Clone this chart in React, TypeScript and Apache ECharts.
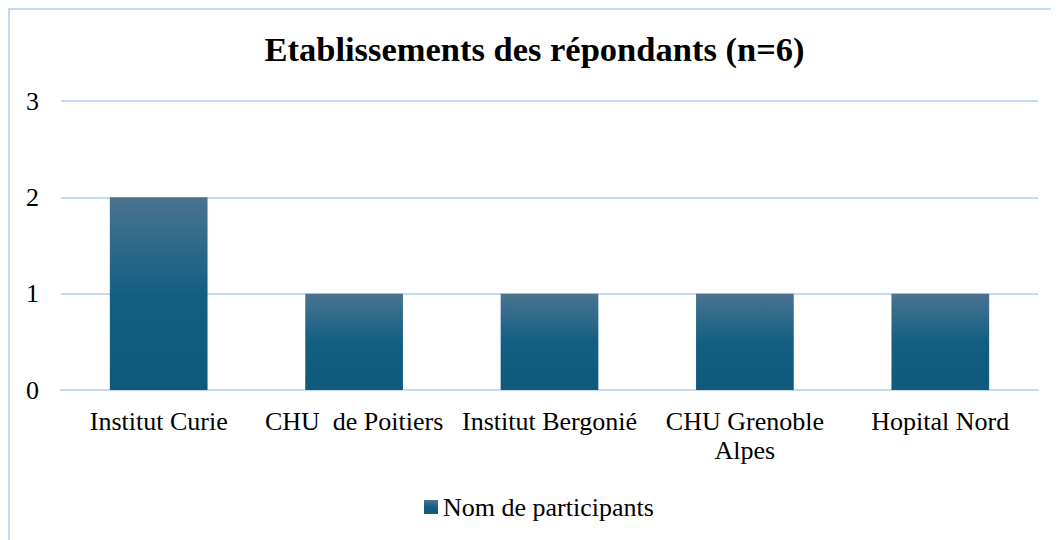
import React, { useEffect, useRef } from "react";
import * as echarts from "echarts";

const titleText = "Etablissements des répondants (n=6)";
const categories = ["Institut Curie", "CHU  de Poitiers", "Institut Bergonié", "CHU Grenoble\nAlpes", "Hopital Nord"];
const seriesName = "Nom de participants";
const values = [2, 1, 1, 1, 1];
const yTicks = { min: 0, max: 3, interval: 1 };

export default function App() {
  const ref = useRef<HTMLDivElement>(null);
  useEffect(() => {
    if (!ref.current) return;
    const chart = echarts.init(ref.current, undefined, { renderer: "svg" });
    const font = "'Liberation Serif', 'Times New Roman', serif";
    const grad = new echarts.graphic.LinearGradient(0, 0, 0, 1, [
      { offset: 0, color: "#4b7390" },
      { offset: 0.5, color: "#135f83" },
      { offset: 1, color: "#0d5a7b" },
    ]);
    chart.setOption({
      animation: false,
      title: {
        text: titleText,
        left: "center",
        top: 19,
        padding: 0,
        textStyle: { fontFamily: font, fontSize: 34.5, lineHeight: 40, fontWeight: "bold", color: "#000" },
      },
      grid: { left: 51, right: 21, top: 91, bottom: 150, containLabel: false },
      legend: {
        top: 482,
        left: 414,
        padding: 0,
        itemWidth: 14,
        itemHeight: 14,
        itemGap: 10,
        textStyle: { fontFamily: font, fontSize: 26, lineHeight: 30, color: "#000" },
        data: [{ name: seriesName, icon: "rect" }],
      },
      xAxis: {
        type: "category",
        data: categories,
        axisLine: { show: true, lineStyle: { color: "#c5d9f0", width: 2 } },
        axisTick: { show: false },
        axisLabel: { fontFamily: font, fontSize: 26, color: "#000", margin: 17, lineHeight: 29, interval: 0 },
      },
      yAxis: {
        type: "value",
        min: yTicks.min,
        max: yTicks.max,
        interval: yTicks.interval,
        axisLine: { show: false },
        axisTick: { show: false },
        splitLine: { lineStyle: { color: "#c5d9f0", width: 2 } },
        axisLabel: { fontFamily: font, fontSize: 26, color: "#000", margin: 22 },
      },
      series: [
        {
          name: seriesName,
          type: "bar",
          data: values,
          barWidth: "50%",
          itemStyle: { color: grad },
        },
      ],
    });
    return () => chart.dispose();
  }, []);
  return (
    <div
      style={{
        width: 1051,
        height: 532,
        borderLeft: "2px solid #c5d9f0",
        borderTop: "2px solid #c5d9f0",
        boxSizing: "border-box",
        overflow: "hidden",
      }}
    >
      <div ref={ref} style={{ width: 1049, height: 530 }} />
    </div>
  );
}
